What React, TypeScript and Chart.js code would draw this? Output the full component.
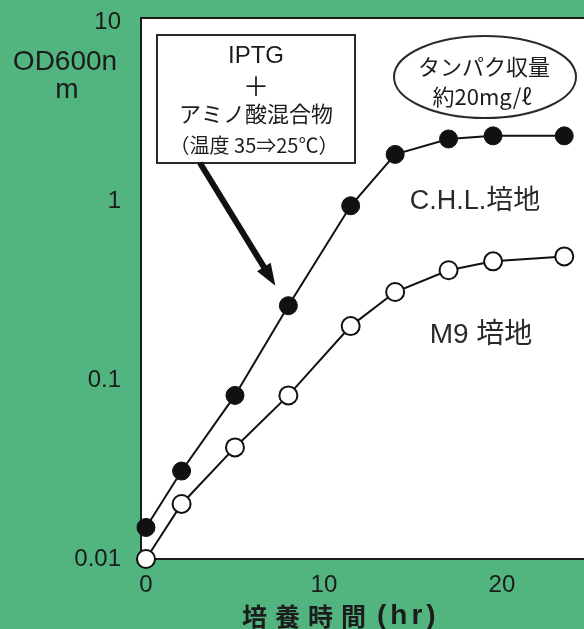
import React, { useEffect, useRef } from 'react';
import { Chart, registerables } from 'chart.js';

Chart.register(...registerables);

// ---- data ----
const hours = [0, 2, 5, 8, 11.5, 14, 17, 19.5, 23.5];
const chlOD = [0.015, 0.031, 0.082, 0.26, 0.94, 1.82, 2.22, 2.31, 2.31];
const m9OD = [0.01, 0.0203, 0.042, 0.082, 0.2, 0.31, 0.41, 0.46, 0.49];
const xTicks = [0, 10, 20];
const yTicks = [0.01, 0.1, 1, 10];
const chlLabel = 'C.H.L.培地';
const m9Label = 'M9 培地';
const yTitleLines = ['OD600n', 'm'];
const xTitleParts = ['培養時間', '(hr)'];
const boxLines = ['IPTG', '＋', 'アミノ酸混合物', '（温度 35⇒25℃）'];
const ovalLines = ['タンパク収量', '約20mg/ℓ'];
const arrowTargetIndex = 3;

const GREEN = '#52b47e';
const INK = '#1c1c1c';
const LATIN = '"Liberation Sans", "Noto Sans CJK JP", sans-serif';
const JP = '"Noto Sans CJK JP", "Liberation Sans", sans-serif';

const decorPlugin = {
  id: 'decor',
  beforeDraw(chart: any) {
    const { ctx, chartArea: a, width, height } = chart;
    ctx.save();
    ctx.fillStyle = GREEN;
    ctx.fillRect(0, 0, width, height);
    ctx.fillStyle = '#ffffff';
    ctx.fillRect(a.left, a.top, a.right - a.left, a.bottom - a.top);
    ctx.strokeStyle = INK;
    ctx.lineWidth = 2;
    ctx.beginPath();
    ctx.moveTo(a.left, a.top);
    ctx.lineTo(a.right, a.top);
    ctx.stroke();
    ctx.restore();
  },
  afterDraw(chart: any) {
    const { ctx } = chart;
    const xs = chart.scales.x;
    const ys = chart.scales.y;
    ctx.save();
    ctx.fillStyle = INK;
    ctx.textAlign = 'center';
    ctx.textBaseline = 'middle';

    // y-axis title
    ctx.font = `28px ${LATIN}`;
    ctx.fillText(yTitleLines[0], 65, 62);
    ctx.fillText(yTitleLines[1], 67, 90);

    // x-axis title
    ctx.textAlign = 'left';
    ctx.font = `bold 25px ${JP}`;
    (ctx as any).letterSpacing = '8px';
    ctx.fillText(xTitleParts[0], 242, 616);
    ctx.font = `bold 28px ${LATIN}`;
    (ctx as any).letterSpacing = '4px';
    ctx.fillText(xTitleParts[1], 377, 616);
    (ctx as any).letterSpacing = '0px';
    ctx.textAlign = 'center';

    // annotation box
    ctx.fillStyle = '#ffffff';
    ctx.fillRect(157, 35, 198, 128);
    ctx.strokeStyle = '#2a2a2a';
    ctx.lineWidth = 2;
    ctx.strokeRect(157, 35, 198, 128);
    ctx.fillStyle = INK;
    ctx.font = `24px ${LATIN}`;
    ctx.fillText(boxLines[0], 256, 56);
    ctx.font = `26px ${JP}`;
    ctx.fillText(boxLines[1], 256, 86);
    ctx.font = `22px ${JP}`;
    ctx.fillText(boxLines[2], 256, 114);
    ctx.font = `20px ${JP}`;
    ctx.fillText(boxLines[3], 254, 145);

    // arrow to the data point
    const px = xs.getPixelForValue(hours[arrowTargetIndex]);
    const py = ys.getPixelForValue(chlOD[arrowTargetIndex]);
    const tipX = px - 13;
    const tipY = py - 20;
    const sx = 200;
    const sy = 163;
    const ang = Math.atan2(tipY - sy, tipX - sx);
    const headLen = 22;
    const headW = 8;
    const bx = tipX - headLen * Math.cos(ang);
    const by = tipY - headLen * Math.sin(ang);
    ctx.strokeStyle = '#111';
    ctx.lineWidth = 6;
    ctx.beginPath();
    ctx.moveTo(sx, sy);
    ctx.lineTo(bx + 4 * Math.cos(ang), by + 4 * Math.sin(ang));
    ctx.stroke();
    ctx.fillStyle = '#111';
    ctx.beginPath();
    ctx.moveTo(tipX, tipY);
    ctx.lineTo(bx + headW * Math.sin(ang), by - headW * Math.cos(ang));
    ctx.lineTo(bx - headW * Math.sin(ang), by + headW * Math.cos(ang));
    ctx.closePath();
    ctx.fill();

    // oval
    ctx.strokeStyle = '#2a2a2a';
    ctx.lineWidth = 2;
    ctx.beginPath();
    ctx.ellipse(485, 77, 91, 41, 0, 0, Math.PI * 2);
    ctx.stroke();
    ctx.fillStyle = INK;
    ctx.font = `22px ${JP}`;
    ctx.fillText(ovalLines[0], 484, 67);
    ctx.fillText(ovalLines[1], 482, 97);

    // series labels
    ctx.fillStyle = '#2a2a2a';
    ctx.font = `27px ${LATIN}`;
    ctx.fillText(chlLabel, 475, 202);
    ctx.font = `28px ${LATIN}`;
    ctx.fillText(m9Label, 481, 335);

    ctx.restore();
  },
};

export default function App() {
  const ref = useRef<HTMLCanvasElement | null>(null);

  useEffect(() => {
    document.body.style.margin = '0';
    const canvas = ref.current;
    if (!canvas) return;
    const chart = new Chart(canvas, {
      type: 'scatter',
      data: {
        datasets: [
          {
            label: chlLabel,
            data: hours.map((h, i) => ({ x: h, y: chlOD[i] })),
            showLine: true,
            borderColor: '#111',
            borderWidth: 2,
            backgroundColor: '#111',
            pointBackgroundColor: '#111',
            pointBorderColor: '#111',
            pointBorderWidth: 1,
            pointRadius: 9,
            clip: false,
          },
          {
            label: m9Label,
            data: hours.map((h, i) => ({ x: h, y: m9OD[i] })),
            showLine: true,
            borderColor: '#111',
            borderWidth: 2,
            backgroundColor: '#ffffff',
            pointBackgroundColor: '#ffffff',
            pointBorderColor: '#111',
            pointBorderWidth: 2,
            pointRadius: 9,
            clip: false,
          },
        ],
      },
      options: {
        responsive: false,
        animation: false,
        events: [],
        layout: { autoPadding: false, padding: { top: 18, left: 0, right: 0, bottom: 0 } },
        plugins: {
          legend: { display: false },
          tooltip: { enabled: false },
          title: { display: false },
        },
        scales: {
          x: {
            type: 'linear',
            min: -0.28,
            max: 24.61,
            grid: { display: false, drawTicks: false },
            border: { display: true, color: INK, width: 2 },
            afterBuildTicks: (s: any) => {
              s.ticks = xTicks.map((v) => ({ value: v }));
            },
            afterFit: (s: any) => {
              s.height = 70;
              s.paddingLeft = 0;
              s.paddingRight = 0;
            },
            ticks: {
              autoSkip: false,
              maxRotation: 0,
              padding: 12,
              color: INK,
              font: { family: LATIN, size: 24 },
              callback: (v: any) => String(v),
            },
          },
          y: {
            type: 'logarithmic',
            min: 0.01,
            max: 10.52,
            grid: { display: false, drawTicks: false },
            border: { display: true, color: INK, width: 2 },
            afterBuildTicks: (s: any) => {
              s.ticks = yTicks.map((v) => ({ value: v }));
            },
            afterFit: (s: any) => {
              s.width = 141;
              s.paddingTop = 0;
              s.paddingBottom = 0;
            },
            ticks: {
              autoSkip: false,
              padding: 20,
              color: INK,
              font: { family: LATIN, size: 24 },
              callback: (v: any) => String(v),
            },
          },
        },
      },
      plugins: [decorPlugin],
    } as any);
    return () => chart.destroy();
  }, []);

  return (
    <div style={{ position: 'absolute', left: 0, top: 0, width: 584, height: 629, background: GREEN }}>
      <canvas ref={ref} width={584} height={629} style={{ display: 'block', width: 584, height: 629 }} />
    </div>
  );
}
